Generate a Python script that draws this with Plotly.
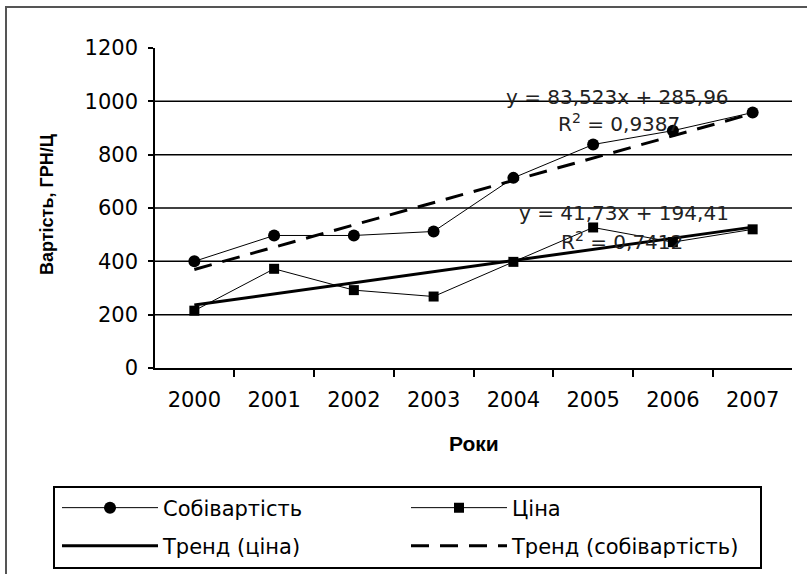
import plotly.graph_objects as go

years = ["2000", "2001", "2002", "2003", "2004", "2005", "2006", "2007"]
cost = [400, 497, 497, 512, 713, 838, 890, 958]
price = [215, 372, 292, 268, 398, 527, 472, 520]

# displayed linear trend equations (x = 1..8)
cost_slope, cost_intercept = 83.523, 285.96
price_slope, price_intercept = 41.73, 194.41

y_ticks = [0, 200, 400, 600, 800, 1000, 1200]
grid_vals = [200, 400, 600, 800, 1000]

FONT = "DejaVu Sans, sans-serif"
BFONT = "Liberation Sans, Arial, sans-serif"

idx = list(range(1, len(years) + 1))
cost_trend = [cost_slope * i + cost_intercept for i in idx]
price_trend = [price_slope * i + price_intercept for i in idx]

W, H = 807, 574
# pixel positions of the plot area
SL, ST, SR, SB = 155, 48, 792, 368
L, T = SL, ST
R, B = W - SR, H - SB
pw, ph = W - L - R, H - T - B


def px(xs):
    return (xs - L) / pw


def py(ys):
    return (H - B - ys) / ph


fig = go.Figure()
fig.add_trace(go.Scatter(x=years, y=cost, mode="lines+markers", name="Собівартість",
                         line=dict(color="black", width=1),
                         marker=dict(symbol="circle", size=12, color="black"),
                         legend="legend"))
fig.add_trace(go.Scatter(x=years, y=price, mode="lines+markers", name="Ціна",
                         line=dict(color="black", width=1),
                         marker=dict(symbol="square", size=10, color="black"),
                         legend="legend2"))
fig.add_trace(go.Scatter(x=years, y=price_trend, mode="lines", name="Тренд (ціна)",
                         line=dict(color="black", width=3),
                         legend="legend3"))
fig.add_trace(go.Scatter(x=years, y=cost_trend, mode="lines", name="Тренд (собівартість)",
                         line=dict(color="black", width=3, dash="18px,11px"),
                         legend="legend4"))

shapes = []
for g in grid_vals:
    shapes.append(dict(type="line", xref="paper", yref="y", x0=0, x1=1, y0=g, y1=g,
                       line=dict(color="black", width=1.5), layer="below"))
# outer chart border
shapes.append(dict(type="rect", xref="paper", yref="paper", x0=px(6), x1=px(830),
                   y0=py(600), y1=py(7), line=dict(color="#555", width=2)))
# legend box
shapes.append(dict(type="rect", xref="paper", yref="paper", x0=px(54), x1=px(761),
                   y0=py(568), y1=py(487), line=dict(color="black", width=2)))

afont = dict(family=FONT, size=20, color="#222")


def ann(text, xs, ys, **kw):
    d = dict(text=text, x=px(xs), y=py(ys), xref="paper", yref="paper",
             xanchor="center", yanchor="middle", showarrow=False, font=afont)
    d.update(kw)
    return d


annotations = [
    ann("y = 83,523x + 285,96", 617, 97),
    ann("R<sup>2</sup> = 0,9387", 619, 123),
    ann("y = 41,73x + 194,41", 624, 213),
    ann("R<sup>2</sup> = 0,7412", 622, 241),
    ann("<b>Вартість, ГРН/Ц</b>", 47, 204, textangle=-90,
        font=dict(family=BFONT, size=18, color="black")),
    ann("<b>Роки</b>", 474, 443, font=dict(family=BFONT, size=21, color="black")),
]

lfont = dict(family=FONT, size=21, color="black")


def leg(xs, ys):
    return dict(x=px(xs), y=py(ys), xanchor="left", yanchor="middle",
                orientation="h", bgcolor="rgba(0,0,0,0)", borderwidth=0,
                itemwidth=96, font=lfont)


fig.update_layout(
    width=W, height=H,
    margin=dict(l=L, r=R, t=T, b=B, autoexpand=False),
    paper_bgcolor="white", plot_bgcolor="white",
    font=dict(family=FONT, size=21, color="black"),
    showlegend=True,
    legend=leg(57, 508),
    legend2=leg(406, 508),
    legend3=leg(57, 546),
    legend4=leg(406, 546),
    shapes=shapes,
    annotations=annotations,
)
fig.update_xaxes(type="category", tickson="boundaries", ticks="outside", ticklen=7,
                 tickcolor="black", tickwidth=1.5, showline=True, linecolor="black",
                 linewidth=1.5, showgrid=False, tickfont=dict(family=FONT, size=21),
                 ticklabelstandoff=12)
fig.update_yaxes(range=[0, 1200], tickvals=y_ticks, ticks="outside", ticklen=5,
                 tickcolor="black", tickwidth=1.5, showline=True, linecolor="black",
                 linewidth=1.5, showgrid=False, zeroline=False,
                 tickfont=dict(family=FONT, size=21), ticklabelstandoff=6)

fig.write_html("out.html", config={"displayModeBar": False})

# place the figure at the page origin (remove default body margin)
with open("out.html", encoding="utf-8") as f:
    html = f.read()
html = html.replace("<body>", '<body style="margin:0;overflow:hidden">', 1)
with open("out.html", "w", encoding="utf-8") as f:
    f.write(html)
